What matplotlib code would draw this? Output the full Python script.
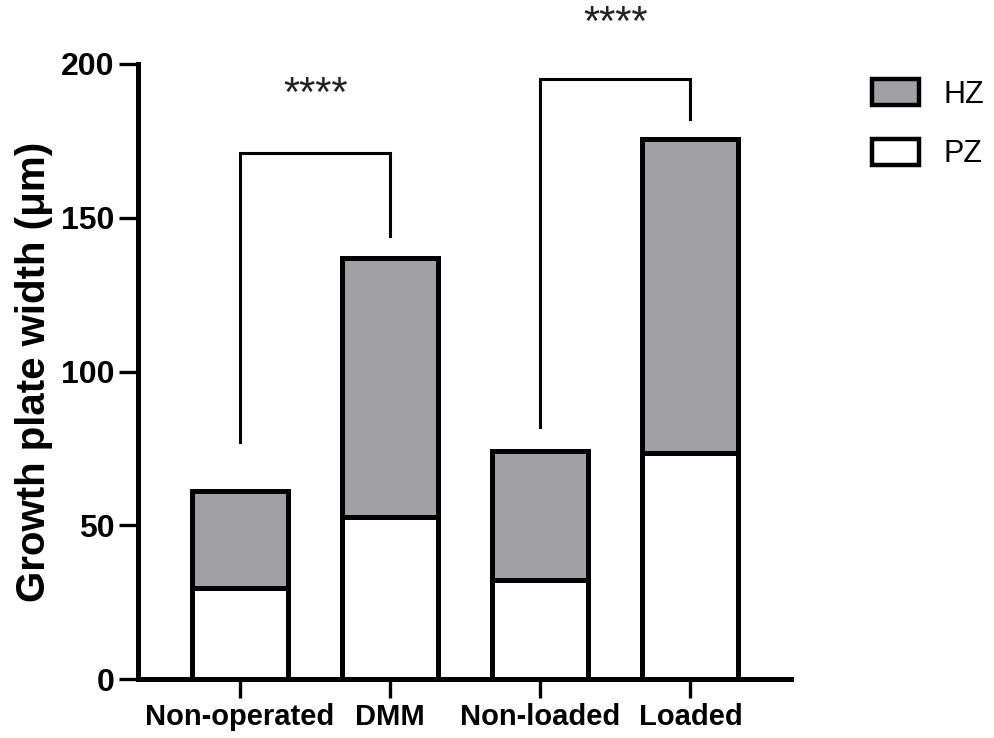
import matplotlib
matplotlib.use("Agg")
import matplotlib.pyplot as plt
import numpy as np
from matplotlib.patches import Patch

plt.rcParams['font.family'] = ['Liberation Sans', 'DejaVu Sans']

groups = ['Non-operated', 'DMM', 'Non-loaded', 'Loaded']
pz = [29.5, 52.8, 32.2, 73.4]
total = [61.0, 137.0, 74.0, 175.5]
hz = [t - p for t, p in zip(total, pz)]

# significance brackets: (left x, right x, left leg bottom, right leg bottom, top, star y)
brackets = [(0, 1, 77, 144, 171, 190),
            (2, 3, 82, 182, 195, 213)]
stars = '****'

gray = '#a1a1a5'
x = np.arange(len(groups))

fig = plt.figure(figsize=(9.94, 7.38), dpi=100)
ax = fig.add_axes([0.1388, 0.0799, 0.657, 0.8334])

ax.bar(x, pz, width=0.64, color='white', edgecolor='black', linewidth=3.6, zorder=2)
ax.bar(x, hz, bottom=pz, width=0.64, color=gray, edgecolor='black', linewidth=3.6, zorder=2)

for x0, x1, b0, b1, top, sy in brackets:
    ax.plot([x0, x0, x1, x1], [b0, top, top, b1], color='black', lw=2.2,
            clip_on=False, solid_joinstyle='miter')
    ax.text((x0 + x1) / 2, sy, stars, ha='center', va='center', fontsize=30,
            color='#222222', clip_on=False)

ax.set_xlim(-0.68, 3.67)
ax.set_ylim(0, 200)
ax.set_yticks([0, 50, 100, 150, 200])
ax.set_xticks(x)
ax.set_xticklabels(groups)
for lab in ax.get_xticklabels():
    lab.set_fontweight('bold')
    lab.set_fontsize(21)
for lab in ax.get_yticklabels():
    lab.set_fontweight('bold')
    lab.set_fontsize(23)
ax.set_ylabel('Growth plate width (μm)', fontsize=29, fontweight='bold', labelpad=6)

for s in ['top', 'right']:
    ax.spines[s].set_visible(False)
for s in ['left', 'bottom']:
    ax.spines[s].set_linewidth(3.6)
ax.tick_params(axis='both', direction='out', length=14, width=2.4, pad=3)

handles = [Patch(facecolor=gray, edgecolor='black', linewidth=3.2, label='HZ'),
           Patch(facecolor='white', edgecolor='black', linewidth=3.2, label='PZ')]
fig.legend(handles=handles, loc='upper left', bbox_to_anchor=(0.877, 1 - 79 / 738),
           frameon=False, fontsize=22, handlelength=1.55, handleheight=0.95,
           labelspacing=0.95, handletextpad=0.8, borderpad=0, borderaxespad=0)

fig.savefig('out.png', dpi=100)
plt.close(fig)
